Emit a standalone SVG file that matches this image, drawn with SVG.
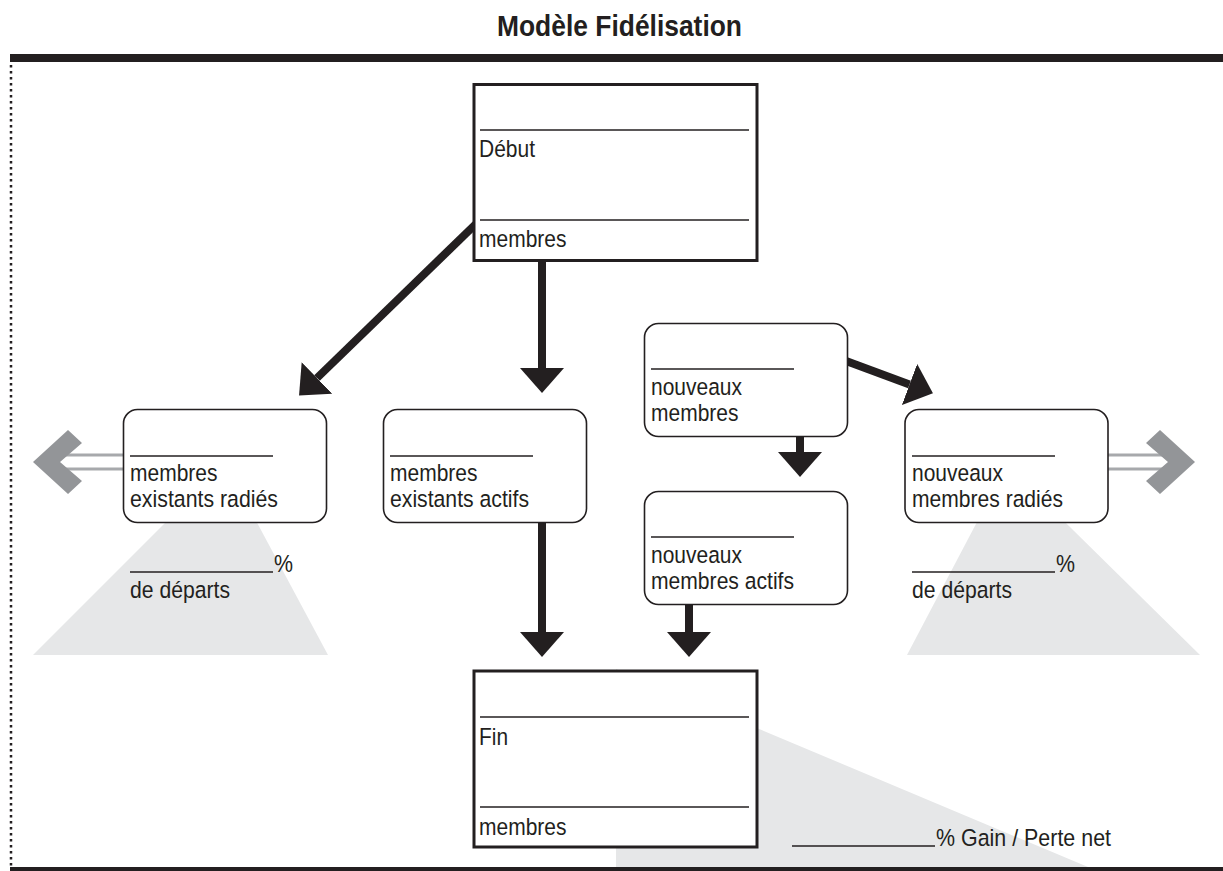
<svg xmlns="http://www.w3.org/2000/svg" width="1223" height="871" viewBox="0 0 1223 871">
<style>
.t{font-family:"Liberation Sans",Arial,sans-serif;font-size:24.5px;fill:#231f20}
.title{font-family:"Liberation Sans",Arial,sans-serif;font-size:29px;font-weight:bold;fill:#231f20}
.sq{fill:#fff;stroke:#231f20;stroke-width:3}
.rb{fill:#fff;stroke:#231f20;stroke-width:1.6}
.ul{stroke:#231f20;stroke-width:1.5}
.shade{fill:#e6e7e8}
.arw{stroke:#231f20;stroke-width:8;fill:none;marker-end:url(#head)}
.gshaft{stroke:#a7a9ac;stroke-width:3}
.chev{fill:#939598}
</style>
<defs>
<marker id="head" markerUnits="userSpaceOnUse" viewBox="0 0 25 44" refX="0" refY="22" markerWidth="25" markerHeight="44" orient="auto">
<path d="M0,0 L25,22 L0,44 z" fill="#231f20"/>
</marker>
</defs>
<rect width="1223" height="871" fill="#fff"/>
<text class="title" x="619.5" y="36" text-anchor="middle" textLength="245" lengthAdjust="spacingAndGlyphs">Modèle Fidélisation</text>
<rect x="10" y="54" width="1213" height="8" fill="#231f20"/>
<rect x="10" y="867" width="1213" height="4" fill="#231f20"/>
<line x1="11" y1="65" x2="11" y2="866" stroke="#231f20" stroke-width="2.5" stroke-dasharray="2.5 3.5"/>
<g id="shading">
<polygon class="shade" points="33,655 328,655 225,463"/>
<polygon class="shade" points="907,655 1200,655 1007,465"/>
<polygon class="shade" points="616,669 616,867 1088,867"/>
</g>
<g id="exits">
<line class="gshaft" x1="62" y1="455" x2="124" y2="455"/>
<line class="gshaft" x1="62" y1="469" x2="124" y2="469"/>
<polygon class="chev" points="33,462 68,430 82,443 60,462 82,481 68,494"/>
<line class="gshaft" x1="1107" y1="455" x2="1166" y2="455"/>
<line class="gshaft" x1="1107" y1="469" x2="1166" y2="469"/>
<polygon class="chev" points="1195,462 1160,430 1146,443 1168,462 1146,481 1160,494"/>
</g>
<g id="connectors">
<line class="arw" x1="482" y1="218" x2="317" y2="378"/>
<line class="arw" x1="542" y1="258" x2="542" y2="368"/>
<line class="arw" x1="542" y1="518" x2="542" y2="632"/>
<line class="arw" x1="800" y1="432" x2="800" y2="452"/>
<line class="arw" x1="689" y1="600" x2="689" y2="632"/>
<line class="arw" x1="838" y1="358" x2="909.5" y2="384.5"/>
</g>
<g id="debut">
<rect class="sq" x="474" y="84.5" width="283" height="176"/>
<line class="ul" x1="480" y1="130" x2="749" y2="130"/>
<line class="ul" x1="480" y1="220" x2="749" y2="220"/>
<text class="t" x="479" y="157" textLength="56" lengthAdjust="spacingAndGlyphs">Début</text>
<text class="t" x="479" y="247" textLength="87.5" lengthAdjust="spacingAndGlyphs">membres</text>
</g>
<g id="fin">
<rect class="sq" x="474" y="671" width="283" height="176"/>
<line class="ul" x1="480" y1="717" x2="749" y2="717"/>
<line class="ul" x1="480" y1="807" x2="749" y2="807"/>
<text class="t" x="479" y="745" textLength="29" lengthAdjust="spacingAndGlyphs">Fin</text>
<text class="t" x="479" y="835" textLength="87.5" lengthAdjust="spacingAndGlyphs">membres</text>
</g>
<g id="existants-radies">
<rect class="rb" x="123.5" y="409.5" width="203" height="113" rx="14"/>
<line class="ul" x1="130" y1="456" x2="273" y2="456"/>
<text class="t" x="130" y="481" textLength="87.5" lengthAdjust="spacingAndGlyphs">membres</text>
<text class="t" x="130" y="507" textLength="148" lengthAdjust="spacingAndGlyphs">existants radiés</text>
</g>
<g id="existants-radies-pct">
<line class="ul" x1="130" y1="572" x2="273" y2="572"/>
<text class="t" x="274" y="572" textLength="19" lengthAdjust="spacingAndGlyphs">%</text>
<text class="t" x="130" y="598" textLength="100" lengthAdjust="spacingAndGlyphs">de départs</text>
</g>
<g id="existants-actifs">
<rect class="rb" x="383.5" y="409.5" width="203" height="113" rx="14"/>
<line class="ul" x1="390" y1="456" x2="533" y2="456"/>
<text class="t" x="390" y="481" textLength="87.5" lengthAdjust="spacingAndGlyphs">membres</text>
<text class="t" x="390" y="507" textLength="139" lengthAdjust="spacingAndGlyphs">existants actifs</text>
</g>
<g id="nouveaux-membres">
<rect class="rb" x="644.5" y="323.5" width="203" height="113" rx="14"/>
<line class="ul" x1="651" y1="369" x2="794" y2="369"/>
<text class="t" x="651" y="395" textLength="91" lengthAdjust="spacingAndGlyphs">nouveaux</text>
<text class="t" x="651" y="421" textLength="87.5" lengthAdjust="spacingAndGlyphs">membres</text>
</g>
<g id="nouveaux-actifs">
<rect class="rb" x="644.5" y="491.5" width="203" height="113" rx="14"/>
<line class="ul" x1="651" y1="537" x2="794" y2="537"/>
<text class="t" x="651" y="563" textLength="91" lengthAdjust="spacingAndGlyphs">nouveaux</text>
<text class="t" x="651" y="589" textLength="143" lengthAdjust="spacingAndGlyphs">membres actifs</text>
</g>
<g id="nouveaux-radies">
<rect class="rb" x="905" y="409.5" width="203" height="113" rx="14"/>
<line class="ul" x1="912" y1="456" x2="1055" y2="456"/>
<text class="t" x="912" y="481" textLength="91" lengthAdjust="spacingAndGlyphs">nouveaux</text>
<text class="t" x="912" y="507" textLength="151" lengthAdjust="spacingAndGlyphs">membres radiés</text>
</g>
<g id="nouveaux-radies-pct">
<line class="ul" x1="912" y1="572" x2="1055" y2="572"/>
<text class="t" x="1056" y="572" textLength="19" lengthAdjust="spacingAndGlyphs">%</text>
<text class="t" x="912" y="598" textLength="100" lengthAdjust="spacingAndGlyphs">de départs</text>
</g>
<g id="gain-perte">
<line class="ul" x1="792" y1="846" x2="935" y2="846"/>
<text class="t" x="936" y="846" textLength="175" lengthAdjust="spacingAndGlyphs">% Gain / Perte net</text>
</g>
</svg>
